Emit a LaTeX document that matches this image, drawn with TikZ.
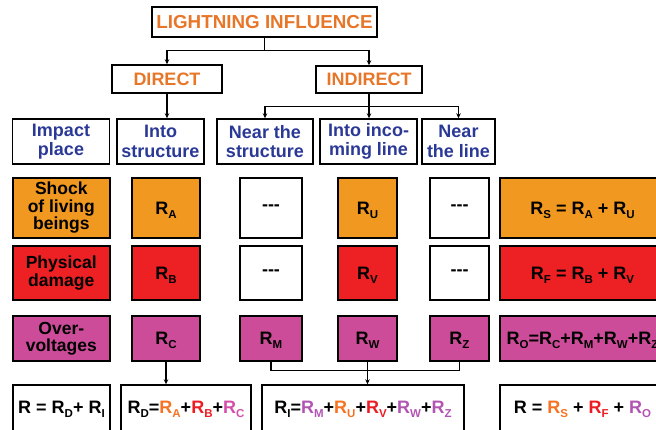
\documentclass[tikz,border=0pt]{standalone}
\usepackage{fontspec}
\setmainfont{Liberation Sans}
\usetikzlibrary{arrows.meta}
\definecolor{hblue}{RGB}{43,57,150}
\definecolor{torange}{RGB}{232,118,40}
\definecolor{forange}{RGB}{240,152,32}
\definecolor{fred}{RGB}{237,32,36}
\definecolor{fmag}{RGB}{204,76,153}
\definecolor{corange}{RGB}{245,115,35}
\definecolor{cred}{RGB}{237,28,36}
\definecolor{cpink}{RGB}{210,80,170}
\definecolor{cpurple}{RGB}{178,85,178}
\newcommand\sbx[1]{\raisebox{-0.22em}{\fontsize{11.5}{12}\selectfont #1}}
\newcommand\Rs[1]{R\sbx{#1}}
\newcommand\cR[2]{\textcolor{#1}{\Rs{#2}}}
\begin{document}
\begin{tikzpicture}[x=1pt,y=-1pt,
 box/.style={draw=black,line width=1.4pt,inner sep=0pt,align=center},
 ttl/.style={box,text=torange,font=\bfseries\fontsize{18.8}{20}\selectfont},
 hdr/.style={box,text=hblue,font=\bfseries\fontsize{18}{19.5}\selectfont,minimum height=45pt},
 lbl/.style={box,font=\bfseries\fontsize{17.5}{17.5}\selectfont},
 fml/.style={box,font=\bfseries\fontsize{18}{20}\selectfont,text depth=0pt},
 bot/.style={box,font=\bfseries\fontsize{18}{20}\selectfont,minimum height=48pt},
 rowA/.style={minimum height=60pt},
 rowB/.style={minimum height=54pt},
 rowC/.style={minimum height=45pt},
 conn/.style={line width=1.2pt},
 arr/.style={conn,-{Stealth[length=5pt,width=4.5pt]}}]
\useasboundingbox (0,0) rectangle (656,430);
\clip (0,0) rectangle (656,430);
% top levels
\node[ttl,minimum width=225pt,minimum height=30pt] (title) at (264.5,22) {LIGHTNING INFLUENCE};
\node[ttl,font=\bfseries\fontsize{18}{20}\selectfont,minimum width=110pt,minimum height=28pt] (direct) at (167,79) {DIRECT};
\node[ttl,font=\bfseries\fontsize{18}{20}\selectfont,minimum width=106pt,minimum height=27pt] (indirect) at (369,79.5) {INDIRECT};
% header row
\node[hdr,minimum width=97pt] (impact) at (61,141.5) {Impact\\place};
\node[hdr,minimum width=87pt] (intostr) at (160.5,141.5) {Into\\structure};
\node[hdr,minimum width=96pt] (nearstr) at (265,141.5) {Near the\\structure};
\node[hdr,minimum width=97pt] (intoline) at (368.5,141.5) {Into inco-\\ming line};
\node[hdr,minimum width=73pt] (nearline) at (458.5,141.5) {Near\\the line};
% row A
\node[lbl,rowA,fill=forange,minimum width=97pt] (shock) at (61.3,208) {Shock\\of living\\beings};
\node[fml,rowA,fill=forange,minimum width=68pt] (RA) at (166,208) {\Rs{A}};
\node[fml,rowA,minimum width=62pt] (dA1) at (271,208) {-{}-{}-};
\node[fml,rowA,fill=forange,minimum width=59pt] (RU) at (367.5,208) {\Rs{U}};
\node[fml,rowA,minimum width=59pt] (dA2) at (459.5,208) {-{}-{}-};
\node[fml,rowA,fill=forange,minimum width=165pt] (RS) at (582.5,208) {\Rs{S} = \Rs{A} + \Rs{U}};
% row B
\node[lbl,rowB,fill=fred,minimum width=97pt] (phys) at (61.3,273) {Physical\\damage};
\node[fml,rowB,fill=fred,minimum width=68pt] (RB) at (166,273) {\Rs{B}};
\node[fml,rowB,minimum width=62pt] (dB1) at (271,273) {-{}-{}-};
\node[fml,rowB,fill=fred,minimum width=59pt] (RV) at (367.5,273) {\Rs{V}};
\node[fml,rowB,minimum width=59pt] (dB2) at (459.5,273) {-{}-{}-};
\node[fml,rowB,fill=fred,minimum width=165pt] (RF) at (582.5,273) {\Rs{F} = \Rs{B} + \Rs{V}};
% row C
\node[lbl,rowC,fill=fmag,minimum width=97pt] (over) at (61.3,338.5) {Over-\\voltages};
\node[fml,rowC,fill=fmag,minimum width=68pt] (RC) at (166,338.5) {\Rs{C}};
\node[fml,rowC,fill=fmag,minimum width=62pt] (RM) at (271,338.5) {\Rs{M}};
\node[fml,rowC,fill=fmag,minimum width=59pt] (RW) at (367.5,338.5) {\Rs{W}};
\node[fml,rowC,fill=fmag,minimum width=59pt] (RZ) at (459.5,338.5) {\Rs{Z}};
\node[fml,rowC,fill=fmag,minimum width=165pt] (RO) at (582.5,338.5) {\Rs{O}=\Rs{C}+\Rs{M}+\Rs{W}+\Rs{Z}};
% bottom row
\node[bot,minimum width=97pt] (Rtot1) at (61.5,409) {R = \Rs{D}+ \Rs{I}};
\node[bot,minimum width=130pt] (RD) at (186,409) {\Rs{D}=\cR{corange}{A}+\cR{cred}{B}+\cR{cpink}{C}};
\node[bot,minimum width=202pt] (RI) at (363,409) {\Rs{I}=\cR{cpurple}{M}+\cR{corange}{U}+\cR{cred}{V}+\cR{cpurple}{W}+\cR{cpurple}{Z}};
\node[bot,line width=1.8pt,minimum width=165pt] (Rtot2) at (582.5,409) {R = \cR{corange}{S} + \cR{cred}{F} + \cR{cpurple}{O}};
% connectors
\draw[conn] (title.south) -- ++(0,13) coordinate (t1);
\draw[arr] (t1) -| (direct.north);
\draw[arr] (t1) -| (indirect.north);
\draw[arr] (direct.south) -- (direct.south |- intostr.north);
\draw[conn] (indirect.south) -- ++(0,13) coordinate (i1);
\draw[arr] (i1) -| (nearstr.north);
\draw[arr] (i1) -| (nearline.north);
\draw[arr] (i1) -- (i1 |- intoline.north);
\draw[arr] (RC.south) -- (RC.south |- RD.north);
\draw[conn] (RM.south) -- ++(0,9) -| (RZ.south);
\draw[arr] (RW.south) -- (RW.south |- RI.north);
\end{tikzpicture}
\end{document}
